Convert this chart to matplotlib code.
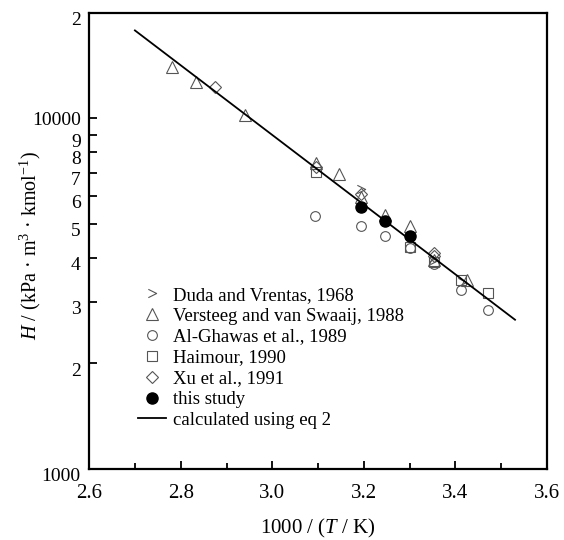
import numpy as np
import matplotlib
matplotlib.use("Agg")
import matplotlib.pyplot as plt
from matplotlib.ticker import FixedLocator, FixedFormatter, NullFormatter
from matplotlib.transforms import ScaledTranslation

plt.rcParams['font.family'] = ['Liberation Serif', 'DejaVu Serif']
plt.rcParams['mathtext.fontset'] = 'custom'
plt.rcParams['mathtext.rm'] = 'Liberation Serif'
plt.rcParams['mathtext.it'] = 'Liberation Serif:italic'

# data: x = 1000/(T/K), H in kPa m3 kmol-1
duda_x = [3.193, 3.353, 3.415]
duda_h = [6280, 3950, 3420]
versteeg_x = [2.781, 2.833, 2.941, 3.096, 3.145, 3.193, 3.246, 3.300, 3.353, 3.425]
versteeg_h = [13990, 12680, 10240, 7450, 6950, 5980, 5300, 4930, 3950, 3460]
ghawas_x = [3.094, 3.193, 3.246, 3.300, 3.353, 3.411, 3.470]
ghawas_h = [5280, 4930, 4630, 4260, 3850, 3250, 2840]
haimour_x = [3.096, 3.300, 3.353, 3.411, 3.470]
haimour_h = [7050, 4300, 3900, 3450, 3180]
xu_x = [2.874, 3.096, 3.193, 3.353, 3.353]
xu_h = [12270, 7250, 6100, 4130, 4050]
study_x = [3.193, 3.246, 3.300]
study_h = [5600, 5110, 4625]

# eq 2: log10(H) = a - b * x
eq2_a = 6.9364
eq2_b = 0.9945
eq2_range = [2.70, 3.53]

y_ticks = [1000, 2000, 3000, 4000, 5000, 6000, 7000, 8000, 9000, 10000, 20000]
y_labels = ['1000', '2', '3', '4', '5', '6', '7', '8', '9', '10000', '2']

fig = plt.figure(figsize=(5.64, 5.40), dpi=100)
ax = fig.add_axes([0.158, 0.1315, 0.812, 0.8445])

gray = '#555555'
ax.plot(duda_x, duda_h, linestyle='none', marker=[(-1, 1), (1, 0), (-1, -1)],
        ms=6, mfc='none', mec=gray, mew=0.8, label='Duda and Vrentas, 1968')
ax.plot(versteeg_x, versteeg_h, linestyle='none', marker='^', ms=8,
        mfc='none', mec=gray, mew=0.8, label='Versteeg and van Swaaij, 1988')
ax.plot(ghawas_x, ghawas_h, linestyle='none', marker='o', ms=7,
        mfc='none', mec=gray, mew=0.8, label='Al-Ghawas et al., 1989')
ax.plot(haimour_x, haimour_h, linestyle='none', marker='s', ms=7,
        mfc='none', mec=gray, mew=0.8, label='Haimour, 1990')
ax.plot(xu_x, xu_h, linestyle='none', marker='D', ms=6,
        mfc='none', mec=gray, mew=0.8, label='Xu et al., 1991')
ax.plot(study_x, study_h, linestyle='none', marker='o', ms=8,
        color='black', label='this study')

xs = np.linspace(eq2_range[0], eq2_range[1], 50)
ax.plot(xs, 10 ** (eq2_a - eq2_b * xs), color='black', lw=1.3,
        label='calculated using eq 2')

ax.set_yscale('log')
ax.set_xlim(2.6, 3.6)
ax.set_ylim(1000, 20000)

ax.set_xticks(np.arange(2.6, 3.61, 0.2))
ax.set_xticklabels(['2.6', '2.8', '3.0', '3.2', '3.4', '3.6'])
ax.set_xticks(np.arange(2.7, 3.6, 0.2), minor=True)

ax.yaxis.set_major_locator(FixedLocator(y_ticks))
ax.yaxis.set_major_formatter(FixedFormatter(y_labels))
ax.yaxis.set_minor_locator(FixedLocator([]))
ax.yaxis.set_minor_formatter(NullFormatter())

ax.tick_params(which='major', direction='in', length=6, width=1.3,
               labelsize=15, top=False, right=False)
ax.tick_params(axis='y', labelsize=14)
ax.tick_params(which='minor', direction='in', length=4, width=1.3,
               top=False, right=False)
ax.tick_params(axis='x', pad=11)
ax.tick_params(axis='y', pad=6)
for s in ax.spines.values():
    s.set_linewidth(1.6)

# y tick labels sit a little below their ticks in the original
# (10000 is left in place so it does not run into the 9)
shift = ScaledTranslation(0, -4 / 72, fig.dpi_scale_trans)
for val, t in zip(y_ticks, ax.yaxis.get_major_ticks()):
    if val != 10000:
        t.label1.set_transform(t.label1.get_transform() + shift)

ax.set_xlabel('1000 / ($T$ / K)', fontsize=15, labelpad=10)
ax.set_ylabel('$H$ / (kPa · m$^3$ · kmol$^{-1}$)', fontsize=14.5)
ax.yaxis.set_label_coords(-0.10, 0.49)

ax.legend(loc='upper left', bbox_to_anchor=(0.107, 0.40), frameon=False,
          fontsize=13.5, borderpad=0, borderaxespad=0, handlelength=1.5,
          handletextpad=0.35, labelspacing=0.2)

fig.savefig('out.png', dpi=100)
